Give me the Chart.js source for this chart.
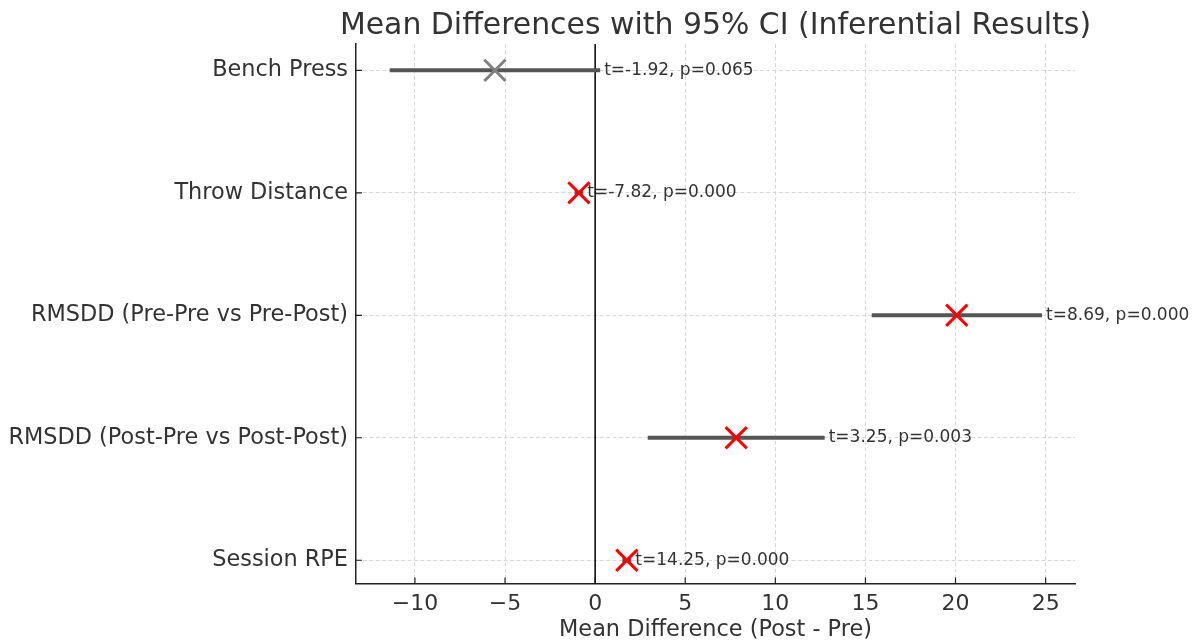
<!DOCTYPE html>
<html><head><meta charset="utf-8">
<script src="https://cdn.jsdelivr.net/npm/chart.js@4.4.0/dist/chart.umd.min.js"></script>
<style>html,body{margin:0;padding:0;background:#fff;overflow:hidden;}</style>
</head><body>
<canvas id="c" width="1195" height="644"></canvas>
<script>
const categories = ["Bench Press", "Throw Distance", "RMSDD (Pre-Pre vs Pre-Post)", "RMSDD (Post-Pre vs Post-Post)", "Session RPE"];
const meanDiff = [-5.56, -0.90, 20.07, 7.83, 1.76];
const ciLower  = [-11.40, -1.14, 15.35, 2.92, 1.51];
const ciUpper  = [0.28, -0.66, 24.80, 12.74, 2.01];
const tValues  = [-1.92, -7.82, 8.69, 3.25, 14.25];
const pValues  = [0.065, 0.000, 0.000, 0.003, 0.000];
const xTicks   = [-10, -5, 0, 5, 10, 15, 20, 25];
const chartTitle = 'Mean Differences with 95% CI (Inferential Results)';

const FONT = "'DejaVu Sans', 'Liberation Sans', sans-serif";
const TEXT = '#333333';

const errDatasets = categories.map((c, i) => ({
  type: 'line',
  label: c + ' CI',
  data: [{x: ciLower[i], y: i}, {x: ciUpper[i], y: i}],
  borderColor: '#555555',
  borderWidth: 4,
  pointRadius: 0,
  showLine: true,
  order: 2
}));

const markerDataset = {
  type: 'scatter',
  label: 'Mean',
  data: categories.map((c, i) => ({x: meanDiff[i], y: i})),
  pointStyle: 'crossRot',
  pointRadius: 15,
  pointBorderWidth: 3,
  pointBorderColor: pValues.map(p => p < 0.05 ? '#ff0000' : '#808080'),
  pointBackgroundColor: 'transparent',
  order: 0
};

const zeroLine = {
  id: 'zeroLine',
  beforeDatasetsDraw(chart) {
    const {ctx, chartArea, scales} = chart;
    const x = scales.x.getPixelForValue(0);
    ctx.save();
    ctx.strokeStyle = '#000';
    ctx.lineWidth = 1.5;
    ctx.beginPath();
    ctx.moveTo(x, chartArea.top);
    ctx.lineTo(x, chartArea.bottom);
    ctx.stroke();
    ctx.restore();
  }
};

const annot = {
  id: 'annot',
  afterDatasetsDraw(chart) {
    const {ctx, scales} = chart;
    ctx.save();
    ctx.font = '17px ' + FONT;
    ctx.fillStyle = TEXT;
    ctx.textAlign = 'left';
    ctx.textBaseline = 'middle';
    categories.forEach((c, i) => {
      const x = scales.x.getPixelForValue(ciUpper[i]) + 4;
      const y = scales.y.getPixelForValue(i);
      ctx.fillText('t=' + tValues[i].toFixed(2) + ', p=' + pValues[i].toFixed(3), x, y);
    });
    ctx.restore();
  }
};

const ticksIn = {
  id: 'ticksIn',
  afterDraw(chart) {
    const {ctx, chartArea, scales} = chart;
    ctx.save();
    ctx.strokeStyle = '#222';
    ctx.lineWidth = 1.2;
    ctx.beginPath();
    scales.x.ticks.forEach(t => {
      const x = scales.x.getPixelForValue(t.value);
      ctx.moveTo(x, chartArea.bottom);
      ctx.lineTo(x, chartArea.bottom - 6);
    });
    scales.y.ticks.forEach(t => {
      const y = scales.y.getPixelForValue(t.value);
      ctx.moveTo(chartArea.left, y);
      ctx.lineTo(chartArea.left + 6, y);
    });
    ctx.stroke();
    // title centred over the plotting area
    ctx.font = '29.9px ' + FONT;
    ctx.fillStyle = TEXT;
    ctx.textAlign = 'center';
    ctx.textBaseline = 'alphabetic';
    ctx.fillText(chartTitle, (chartArea.left + chartArea.right) / 2, 34);
    ctx.restore();
  }
};

const gridOpts = {
  color: '#d6d6d6',
  lineWidth: 1,
  drawTicks: false
};

new Chart(document.getElementById('c'), {
  data: { datasets: [markerDataset, ...errDatasets] },
  options: {
    responsive: false,
    animation: false,
    devicePixelRatio: 1,
    layout: { padding: { left: 0, right: 120, top: 44, bottom: 0 } },
    plugins: {
      legend: { display: false },
      tooltip: { enabled: false },
      title: { display: false }
    },
    scales: {
      x: {
        type: 'linear',
        min: -13.27,
        max: 26.63,
        afterBuildTicks: s => { s.ticks = xTicks.map(v => ({value: v})); },
        afterFit: s => { s.height = 60.5; },
        ticks: {
          color: TEXT,
          font: { family: FONT, size: 22 },
          padding: 8,
          maxRotation: 0,
          callback: v => (v < 0 ? '\u2212' + Math.abs(v) : String(v))
        },
        grid: gridOpts,
        border: { display: true, color: '#222', width: 1.5, dash: [4, 2.4] },
        title: {
          display: true,
          text: 'Mean Difference (Post - Pre)',
          color: TEXT,
          font: { family: FONT, size: 22.4 },
          padding: { top: 1, bottom: 0 }
        }
      },
      y: {
        type: 'linear',
        reverse: true,
        min: -0.215,
        max: 4.19,
        afterBuildTicks: s => { s.ticks = categories.map((c, i) => ({value: i})); },
        afterFit: s => { s.width = 356; },
        ticks: {
          color: TEXT,
          font: { family: FONT, size: 22.4 },
          padding: 8,
          callback: v => categories[v]
        },
        grid: gridOpts,
        border: { display: true, color: '#222', width: 1.5, dash: [4, 2.4] }
      }
    }
  },
  plugins: [zeroLine, annot, ticksIn]
});
</script>
</body></html>
